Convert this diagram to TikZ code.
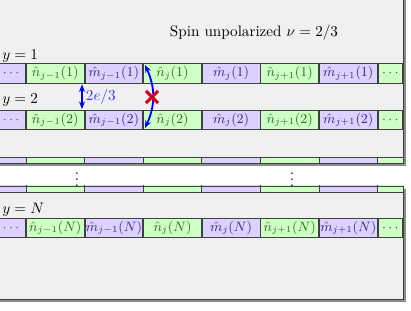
\documentclass[tikz,border=0pt]{standalone}
\usetikzlibrary{arrows.meta,shapes.misc}
\definecolor{cellgreen}{RGB}{206,255,196}
\definecolor{cellpurple}{RGB}{221,210,255}
\definecolor{ngreen}{RGB}{40,110,30}
\definecolor{mpurple}{RGB}{50,40,130}
\definecolor{crossred}{RGB}{210,0,30}
\begin{document}
\begin{tikzpicture}[
  x=0.66pt, y=-0.66pt,
  shade/.style={fill=black!45},
  panel/.style={fill=black!6},
  rim/.style={draw=black!75, line width=0.6pt},
  ncell/.style={rectangle, fill=cellgreen, draw=black!75, line width=0.5pt, inner sep=0pt,
    minimum width=38.1pt, minimum height=12.8pt, text=ngreen, font=\fontsize{9pt}{11pt}\selectfont},
  mcell/.style={ncell, fill=cellpurple, text=mpurple},
  dotsl/.style={ncell, fill=cellpurple, text=black!70, minimum width=19.2pt},
  dotsr/.style={ncell, text=black!70, minimum width=16.2pt},
  pg/.style={fill=cellgreen, draw=black!75, line width=0.5pt},
  pp/.style={fill=cellpurple, draw=black!75, line width=0.5pt},
  jump/.style={{Stealth[length=5pt,width=4pt]}-{Stealth[length=5pt,width=4pt]}, blue, line width=1.2pt}
]
  \useasboundingbox (0,0) rectangle (411,311);
  \clip (0,0) rectangle (411,311);

  % Panel superior (filas y=1 e y=2)
  \path[shade] (-7,-7) rectangle (406,166);
  \path[panel] (-10,-10) rectangle (403,163);
  \begin{scope}
    \clip (-10,-10) rectangle (403,163);
    % Fila y=1
    \node[dotsl] (dots1l) at (11,73.5) {$\cdots$};
    \node[ncell] (nprev1) at (55.3,73.5) {$\hat{n}_{j-1}(1)$};
    \node[mcell] (mprev1) at (113.9,73.5) {$\hat{m}_{j-1}(1)$};
    \node[ncell] (nj1) at (172.5,73.5) {$\hat{n}_{j}(1)$};
    \node[mcell] (mj1) at (231.1,73.5) {$\hat{m}_{j}(1)$};
    \node[ncell] (nnext1) at (289.7,73.5) {$\hat{n}_{j+1}(1)$};
    \node[mcell] (mnext1) at (348.3,73.5) {$\hat{m}_{j+1}(1)$};
    \node[dotsr] (dots1r) at (390.3,73.5) {$\cdots$};
    % Fila y=2
    \node[dotsl] (dots2l) at (11,120) {$\cdots$};
    \node[ncell] (nprev2) at (55.3,120) {$\hat{n}_{j-1}(2)$};
    \node[mcell] (mprev2) at (113.9,120) {$\hat{m}_{j-1}(2)$};
    \node[ncell] (nj2) at (172.5,120) {$\hat{n}_{j}(2)$};
    \node[mcell] (mj2) at (231.1,120) {$\hat{m}_{j}(2)$};
    \node[ncell] (nnext2) at (289.7,120) {$\hat{n}_{j+1}(2)$};
    \node[mcell] (mnext2) at (348.3,120) {$\hat{m}_{j+1}(2)$};
    \node[dotsr] (dots2r) at (390.3,120) {$\cdots$};
    % Fila cortada en el borde inferior
    \path[pp] (-4,157) rectangle (26,177);
    \path[pg] (26,157) rectangle (84.6,177);
    \path[pp] (84.6,157) rectangle (143.2,177);
    \path[pg] (143.2,157) rectangle (201.8,177);
    \path[pp] (201.8,157) rectangle (260.4,177);
    \path[pg] (260.4,157) rectangle (319,177);
    \path[pp] (319,157) rectangle (377.6,177);
    \path[pg] (377.6,157) rectangle (403,177);
  \end{scope}
  \path[rim] (-10,-10) rectangle (403,163);

  % Panel inferior (fila y=N)
  \path[shade] (-7,189) rectangle (406,302);
  \path[panel] (-10,186) rectangle (403,299);
  \begin{scope}
    \clip (-10,186) rectangle (403,299);
    % Fila cortada en el borde superior
    \path[pp] (-4,172) rectangle (26,192);
    \path[pg] (26,172) rectangle (84.6,192);
    \path[pp] (84.6,172) rectangle (143.2,192);
    \path[pg] (143.2,172) rectangle (201.8,192);
    \path[pp] (201.8,172) rectangle (260.4,192);
    \path[pg] (260.4,172) rectangle (319,192);
    \path[pp] (319,172) rectangle (377.6,192);
    \path[pg] (377.6,172) rectangle (403,192);
    % Fila y=N
    \node[dotsl] (dotsNl) at (11,228) {$\cdots$};
    \node[ncell] (nprevN) at (55.3,228) {$\hat{n}_{j-1}(N)$};
    \node[mcell] (mprevN) at (113.9,228) {$\hat{m}_{j-1}(N)$};
    \node[ncell] (njN) at (172.5,228) {$\hat{n}_{j}(N)$};
    \node[mcell] (mjN) at (231.1,228) {$\hat{m}_{j}(N)$};
    \node[ncell] (nnextN) at (289.7,228) {$\hat{n}_{j+1}(N)$};
    \node[mcell] (mnextN) at (348.3,228) {$\hat{m}_{j+1}(N)$};
    \node[dotsr] (dotsNr) at (390.3,228) {$\cdots$};
  \end{scope}
  \path[rim] (-10,186) rectangle (403,299);

  % Etiquetas de las filas y titulo
  \node[anchor=base west, inner sep=0pt] (ylab1) at (2,60) {$y=1$};
  \node[anchor=base west, inner sep=0pt] (ylab2) at (2,104) {$y=2$};
  \node[anchor=base west, inner sep=0pt] (ylabN) at (2,214) {$y=N$};
  \node (title) at (254,33) {Spin unpolarized $\nu=2/3$};

  % Puntos verticales entre paneles
  \node (vdots1) at (77,175) {$\vdots$};
  \node (vdots2) at (292,175) {$\vdots$};

  % Salto permitido de carga 2e/3
  \coordinate (q1) at (82,84.5);
  \coordinate (q2) at (82,109);
  \draw[jump] (q1) -- node[right, text=blue!80, inner sep=2pt] (charge) {$2e/3$} (q2);

  % Salto prohibido
  \coordinate (c1) at (145,65);
  \coordinate (c2) at (145,128);
  \draw[jump] (c1) to[bend left=25] (c2);
  \node[cross out, draw=crossred, line width=2pt, minimum size=6pt, inner sep=0pt] (block) at (152,97) {};
\end{tikzpicture}
\end{document}
